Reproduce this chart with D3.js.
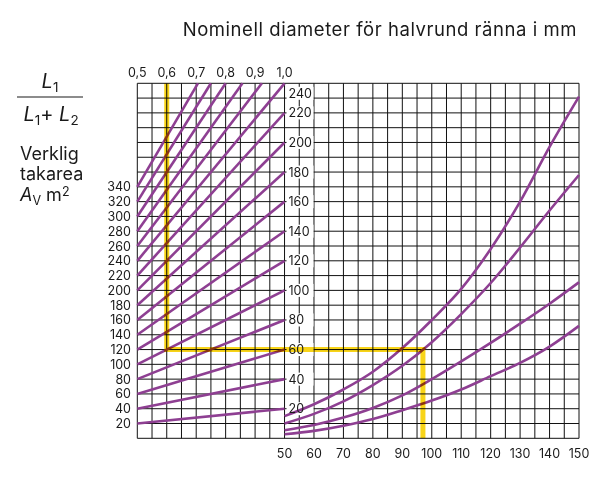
<!DOCTYPE html>
<html>
<head>
<meta charset="utf-8">
<script src="https://cdn.jsdelivr.net/npm/d3@7"></script>
<style>
  body { margin: 0; background: #fff; }
  svg { display: block; font-family: Inter, "Noto Sans", sans-serif; }
</style>
</head>
<body>
<div id="chart"></div>
<script>
// tick labels
const ratioTicks = [0.5, 0.6, 0.7, 0.8, 0.9, 1.0];
const areaTicks = [20, 40, 60, 80, 100, 120, 140, 160, 180, 200, 220, 240, 260, 280, 300, 320, 340];
const flowTicks = [20, 40, 60, 80, 100, 120, 140, 160, 180, 200, 220, 240];
const diaTicks = [50, 60, 70, 80, 90, 100, 110, 120, 130, 140, 150];

// one straight line per roof area (m2) in the left panel
const areaLines = [20, 40, 60, 80, 100, 120, 140, 160, 180, 200, 220, 240, 260, 280, 300, 320, 340];

// gutter curves in the right panel
const curveDia = [50, 60, 70, 80, 90, 100, 110, 120, 130, 140, 150];
const curveA = [15, 23, 33, 45, 61, 80, 101, 128, 160, 197, 231];
const curveB = [10, 16.5, 25, 36, 49, 65, 84, 105, 129, 154, 178];
const curveC = [5.5, 9, 14, 20.5, 29, 40, 52, 64.5, 77.5, 91, 105.5];
const curveD = [2.7, 5, 8.5, 13, 19, 25.5, 33, 42, 51, 62, 76];

// worked example (yellow)
const exampleRatio = 0.6;
const exampleFlow = 60;
const exampleDia = 97;

const width = 603;
const height = 477;
const purple = '#8e3f92';
const yellow = '#f8d418';

const gLeft = 137.3, gRight = 579, gTop = 83.3, gBottom = 438.3;
const colW = (gRight - gLeft) / 30;
const gMid = gLeft + 10 * colW;

const xRatio = d3.scaleLinear().domain([0.5, 1.0]).range([gLeft, gMid]);
const xDia = d3.scaleLinear().domain([50, 150]).range([gMid, gRight]);
const yFlow = d3.scaleLinear().domain([0, 240]).range([gBottom, gTop]);
const yArea = d3.scaleLinear().domain([0, 480]).range([gBottom, gTop]);

const svg = d3.select('#chart')
  .append('svg')
  .attr('width', width)
  .attr('height', height);

// grid
const grid = svg.append('g')
  .attr('stroke', '#111')
  .attr('stroke-width', 1);

const vLines = d3.range(0.5, 1.0001, 0.05).map(d => xRatio(d))
  .concat(d3.range(55, 150.001, 5).map(d => xDia(d)));
grid.selectAll('line.v')
  .data(vLines)
  .join('line')
  .attr('class', 'v')
  .attr('x1', d => d).attr('x2', d => d)
  .attr('y1', gTop).attr('y2', gBottom);

grid.selectAll('line.h')
  .data(d3.range(0, 240.001, 10))
  .join('line')
  .attr('class', 'h')
  .attr('x1', gLeft).attr('x2', gRight)
  .attr('y1', d => yFlow(d)).attr('y2', d => yFlow(d));

// white boxes behind the middle scale
const flowLabelY = d => d === 240 ? yFlow(d) + 10 : yFlow(d);
svg.append('g')
  .selectAll('rect')
  .data(flowTicks)
  .join('rect')
  .attr('x', gMid + 2)
  .attr('y', d => flowLabelY(d) - 6.5)
  .attr('width', 27)
  .attr('height', 13)
  .attr('fill', '#fff');

// left panel: area lines, Q = A * ratio
const lines = svg.append('g')
  .attr('stroke', purple)
  .attr('stroke-width', 2.6)
  .attr('fill', 'none');

lines.selectAll('line')
  .data(areaLines)
  .join('line')
  .attr('x1', xRatio(0.5))
  .attr('y1', d => yArea(d))
  .attr('x2', d => xRatio(Math.min(1, 240 / d)))
  .attr('y2', d => yFlow(Math.min(240, d)));

// right panel: gutter curves
const curveLine = d3.line()
  .x((d, i) => xDia(curveDia[i]))
  .y(d => yFlow(d))
  .curve(d3.curveMonotoneX);

lines.selectAll('path')
  .data([curveA, curveB, curveC, curveD])
  .join('path')
  .attr('d', d => curveLine(d));

// yellow example path
svg.append('path')
  .attr('d', d3.line()([
    [xRatio(exampleRatio), gTop],
    [xRatio(exampleRatio), yFlow(exampleFlow)],
    [xDia(exampleDia), yFlow(exampleFlow)],
    [xDia(exampleDia), gBottom]
  ]))
  .attr('fill', 'none')
  .attr('stroke', yellow)
  .attr('stroke-width', 5)
  .style('mix-blend-mode', 'multiply');

// tick labels
const labels = svg.append('g')
  .attr('font-size', 12.5)
  .attr('fill', '#1a1a1a');

labels.selectAll('text.ratio')
  .data(ratioTicks)
  .join('text')
  .attr('class', 'ratio')
  .attr('x', d => xRatio(d))
  .attr('y', 77)
  .attr('text-anchor', 'middle')
  .text(d => d.toFixed(1).replace('.', ','));

labels.selectAll('text.area')
  .data(areaTicks)
  .join('text')
  .attr('class', 'area')
  .attr('x', 131)
  .attr('y', d => yArea(d) + 4.5)
  .attr('text-anchor', 'end')
  .text(d => d);

labels.selectAll('text.flow')
  .data(flowTicks)
  .join('text')
  .attr('class', 'flow')
  .attr('x', gMid + 4)
  .attr('y', d => flowLabelY(d) + 4.5)
  .text(d => d);

labels.selectAll('text.dia')
  .data(diaTicks)
  .join('text')
  .attr('class', 'dia')
  .attr('x', d => xDia(d))
  .attr('y', 458)
  .attr('text-anchor', 'middle')
  .text(d => d);

// title
svg.append('text')
  .attr('x', 577)
  .attr('y', 36)
  .attr('text-anchor', 'end')
  .attr('font-size', 18.5)
  .attr('letter-spacing', 0.55)
  .attr('fill', '#1a1a1a')
  .text('Nominell diameter för halvrund ränna i mm');

// left hand formula and axis title
const side = svg.append('g')
  .attr('fill', '#1a1a1a');

const num = side.append('text')
  .attr('x', 50).attr('y', 88)
  .attr('text-anchor', 'middle')
  .attr('font-size', 20);
num.append('tspan').attr('font-style', 'italic').text('L');
num.append('tspan').attr('font-size', 13.5).attr('dy', 4).text('1');

side.append('line')
  .attr('x1', 17).attr('x2', 83)
  .attr('y1', 97).attr('y2', 97)
  .attr('stroke', '#1a1a1a')
  .attr('stroke-width', 1.2);

const den = side.append('text')
  .attr('x', 51).attr('y', 121)
  .attr('text-anchor', 'middle')
  .attr('font-size', 20);
den.append('tspan').attr('font-style', 'italic').text('L');
den.append('tspan').attr('font-size', 13.5).attr('dy', 4).text('1');
den.append('tspan').attr('dy', -4).text('+ ');
den.append('tspan').attr('font-style', 'italic').text('L');
den.append('tspan').attr('font-size', 13.5).attr('dy', 4).text('2');

const axisTitle = side.append('text')
  .attr('font-size', 18);
axisTitle.append('tspan').attr('x', 20).attr('y', 160).text('Verklig');
axisTitle.append('tspan').attr('x', 20).attr('y', 180).text('takarea');
const av = side.append('text')
  .attr('x', 20).attr('y', 201)
  .attr('font-size', 18);
av.append('tspan').attr('font-style', 'italic').text('A');
av.append('tspan').attr('font-size', 12.5).attr('dy', 4).text('V');
av.append('tspan').attr('dy', -4).text(' m');
av.append('tspan').attr('font-size', 12.5).attr('dy', -5).text('2');
</script>
</body>
</html>
